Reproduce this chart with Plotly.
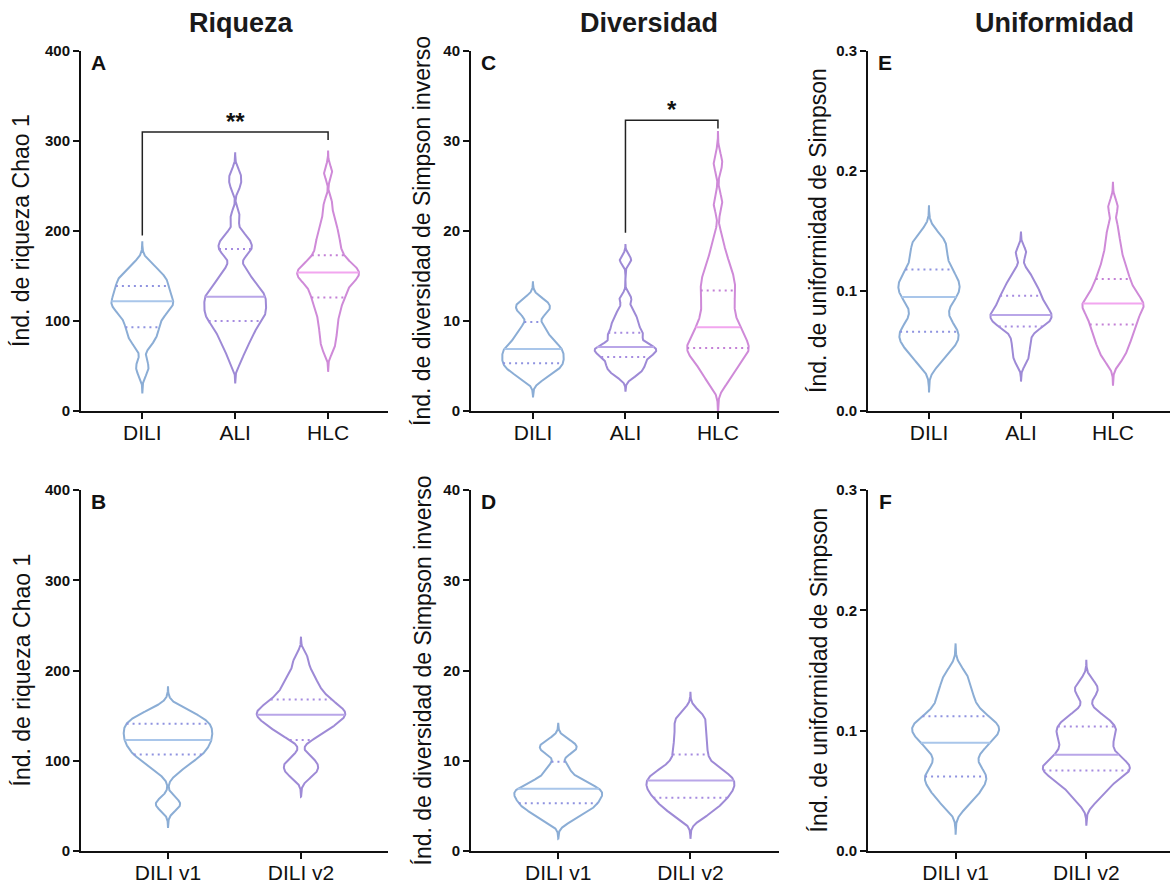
import numpy as np
import plotly.graph_objects as go

# ---------------- data (values estimated from the reference figure) ----------------
cats_top = ["DILI", "ALI", "HLC"]
cats_bottom = ["DILI v1", "DILI v2"]

# Riqueza (Chao 1)
chao1_DILI = [44, 53, 72, 78, 83, 87, 91, 95, 99, 103, 106, 109, 112, 114, 116, 118, 120, 122,
              124, 126, 128, 131, 133.5, 136, 138.5, 141, 143.5, 146, 148.5, 151, 155, 159, 164]
chao1_ALI = [55, 66, 72, 78, 83, 87, 91, 95, 98, 101, 103.5, 106, 108.5, 111, 113.5, 116, 118.5,
             121, 123.5, 126, 128.5, 131, 133.5, 136, 140, 144, 148, 153, 160, 174, 178, 182, 186,
             191, 197, 216, 251, 263]
chao1_HLC = [68, 78, 86, 94, 102, 108, 114, 120, 124, 128, 132, 136, 140, 143, 145.5, 148, 150,
             152, 154, 156, 158, 160.5, 163, 166, 170, 175, 180, 186, 192, 198, 205, 215, 230, 265]
chao1_DILI_v1 = [50, 54, 88, 95, 101, 104, 107, 110, 113, 116, 118.5, 121, 123.5, 126, 128.5, 131,
                 133.5, 136, 138.5, 141, 143.5, 146, 149, 153, 158]
chao1_DILI_v2 = [84, 90, 96, 102, 126, 131, 135, 139, 142, 145, 147.5, 150, 152, 154, 156.5, 159,
                 162, 165, 169, 173, 178, 184, 191, 199, 213]

# Diversidad (Simpson inverso)
invsimp_DILI = [3.6, 4.2, 4.6, 4.9, 5.2, 5.5, 5.8, 6.1, 6.4, 6.7, 7.0, 7.3, 7.7, 8.2, 8.8, 9.5,
                10.8, 11.3, 11.8, 12.3]
invsimp_ALI = [3.9, 4.4, 4.8, 5.1, 5.5, 5.9, 6.2, 6.45, 6.65, 6.85, 7.05, 7.25, 7.5, 8.2, 8.5, 8.8,
               9.4, 9.9, 10.4, 11.2, 12.5, 16.8]
invsimp_HLC = [3.2, 3.9, 4.6, 5.2, 5.7, 6.1, 6.4, 6.7, 7.0, 7.3, 7.6, 8.0, 8.4, 8.8, 9.3, 9.8, 10.4,
               11.0, 11.7, 12.4, 13.0, 13.6, 14.2, 14.8, 15.5, 16.3, 17.3, 19.0, 23.1, 27.6]
invsimp_DILI_v1 = [3.4, 4.0, 4.5, 4.8, 5.1, 5.4, 5.7, 6.0, 6.25, 6.5, 6.75, 7.0, 7.3, 7.7, 8.3, 9.3,
                   11.0, 11.5, 12.1]
invsimp_DILI_v2 = [3.8, 4.5, 5.0, 5.4, 5.8, 6.15, 6.5, 6.8, 7.1, 7.4, 7.7, 8.0, 8.3, 8.6, 9.0, 9.5,
                   10.2, 11.0, 11.8, 12.6, 13.5, 14.3, 15.2]

# Uniformidad (Simpson)
even_DILI = [0.040, 0.046, 0.051, 0.055, 0.058, 0.061, 0.064, 0.067, 0.070, 0.074, 0.079, 0.085,
             0.090, 0.094, 0.097, 0.100, 0.103, 0.106, 0.109, 0.112, 0.116, 0.120, 0.125, 0.131,
             0.136, 0.141, 0.147]
even_ALI = [0.042, 0.050, 0.057, 0.064, 0.0695, 0.072, 0.074, 0.076, 0.078, 0.080, 0.082, 0.084,
            0.086, 0.089, 0.092, 0.095, 0.098, 0.101, 0.105, 0.110, 0.116, 0.132]
even_HLC = [0.042, 0.048, 0.053, 0.057, 0.061, 0.065, 0.068, 0.071, 0.074, 0.077, 0.080, 0.083,
            0.085, 0.087, 0.089, 0.091, 0.093, 0.096, 0.099, 0.102, 0.106, 0.110, 0.114, 0.119,
            0.125, 0.132, 0.141, 0.152, 0.170]
even_DILI_v1 = [0.038, 0.044, 0.049, 0.053, 0.057, 0.060, 0.063, 0.066, 0.070, 0.076, 0.082, 0.086,
                0.089, 0.092, 0.095, 0.098, 0.100, 0.102, 0.104, 0.106, 0.109, 0.112, 0.116, 0.121,
                0.127, 0.133, 0.140, 0.148]
even_DILI_v2 = [0.042, 0.049, 0.054, 0.058, 0.061, 0.064, 0.066, 0.068, 0.070, 0.072, 0.074, 0.077,
                0.080, 0.084, 0.088, 0.092, 0.096, 0.099, 0.102, 0.105, 0.109, 0.114, 0.131, 0.138]

# medians and quartiles as shown in the figure
chao1_median = [122, 127, 154]
chao1_q1 = [93, 100, 126]
chao1_q3 = [139, 180, 173]
chao1_v_median = [123, 151]
chao1_v_q1 = [107, 123]
chao1_v_q3 = [141, 168]
invsimp_median = [6.9, 7.1, 9.3]
invsimp_q1 = [5.3, 6.0, 7.0]
invsimp_q3 = [9.9, 8.7, 13.4]
invsimp_v_median = [6.9, 7.8]
invsimp_v_q1 = [5.3, 5.9]
invsimp_v_q3 = [9.9, 10.7]
even_median = [0.095, 0.080, 0.0895]
even_q1 = [0.066, 0.0705, 0.072]
even_q3 = [0.118, 0.096, 0.110]
even_v_median = [0.090, 0.080]
even_v_q1 = [0.062, 0.067]
even_v_q3 = [0.112, 0.1035]

# significance brackets: (x_left, x_right, y_top, y_left_end, y_right_end, label)
sig_riqueza = (1, 3, 310, 195, 301, "**")
sig_diversidad = (2, 3, 32.3, 19.8, 31.4, "*")

# ---------------- styling ----------------
W, H = 1171, 883
FONT = "Arial, Liberation Sans, Helvetica, sans-serif"
OUTLINE = ["#8badd5", "#9e8ad6", "#cf8ad8"]
MEDIAN_C = ["#a9c6ea", "#b9a6e8", "#f2a6ef"]
QUART_C = ["#8f93e0", "#a68be0", "#c480d6"]
HALF_W = 0.333

def px_x(p):
    return p / W

def px_y(p):
    return 1 - p / H

panels = [
    dict(ax="", xd=(81, 388), yd=(51, 411), groups=[chao1_DILI, chao1_ALI, chao1_HLC], cats=cats_top,
         med=chao1_median, q1=chao1_q1, q3=chao1_q3, bw=[7, 7, 7], yr=[0, 400], dt=100, fmt="d",
         ytitle="Índ. de riqueza Chao 1", letter="A", ytx=21, colors=[0, 1, 2], xr=[0.34, 3.645]),
    dict(ax="2", xd=(471, 779), yd=(51, 411), groups=[invsimp_DILI, invsimp_ALI, invsimp_HLC], cats=cats_top,
         med=invsimp_median, q1=invsimp_q1, q3=invsimp_q3, bw=[0.6, 0.5, 1.0], yr=[0, 40], dt=10, fmt="d",
         ytitle="Índ. de diversidad de Simpson inverso", letter="C", ytx=422, colors=[0, 1, 2], xr=[0.33, 3.66]),
    dict(ax="3", xd=(868, 1170), yd=(51, 411), groups=[even_DILI, even_ALI, even_HLC], cats=cats_top,
         med=even_median, q1=even_q1, q3=even_q3, bw=[0.007, 0.005, 0.006], yr=[0, 0.3], dt=0.1, fmt=".1f",
         ytitle="Índ. de uniformidad de Simpson", letter="E", ytx=818, colors=[0, 1, 2], xr=[0.337, 3.62]),
    dict(ax="4", xd=(81, 388), yd=(490, 851), groups=[chao1_DILI_v1, chao1_DILI_v2], cats=cats_bottom,
         med=chao1_v_median, q1=chao1_v_q1, q3=chao1_v_q3, bw=[7, 7], yr=[0, 400], dt=100, fmt="d",
         ytitle="Índ. de riqueza Chao 1", letter="B", ytx=21, colors=[0, 1], xr=[0.346, 2.654]),
    dict(ax="5", xd=(471, 779), yd=(490, 851), groups=[invsimp_DILI_v1, invsimp_DILI_v2], cats=cats_bottom,
         med=invsimp_v_median, q1=invsimp_v_q1, q3=invsimp_v_q3, bw=[0.6, 0.7], yr=[0, 40], dt=10, fmt="d",
         ytitle="Índ. de diversidad de Simpson inverso", letter="D", ytx=422, colors=[0, 1], xr=[0.34, 2.67]),
    dict(ax="6", xd=(868, 1170), yd=(490, 851), groups=[even_DILI_v1, even_DILI_v2], cats=cats_bottom,
         med=even_v_median, q1=even_v_q1, q3=even_v_q3, bw=[0.007, 0.006], yr=[0, 0.3], dt=0.1, fmt=".1f",
         ytitle="Índ. de uniformidad de Simpson", letter="F", ytx=818, colors=[0, 1], xr=[0.33, 2.64]),
]


def violin_profile(samples, h, ext=3.5, n=500):
    s = np.asarray(samples, dtype=float)
    y = np.linspace(s.min() - ext * h, s.max() + ext * h, n)
    d = np.exp(-0.5 * ((y[:, None] - s[None, :]) / h) ** 2).sum(axis=1)
    w = HALF_W * d / d.max()
    return y, w


fig = go.Figure()
annotations = []
layout_axes = {}

for p in panels:
    xa = "x" + p["ax"]
    ya = "y" + p["ax"]
    for i, (samples, h) in enumerate(zip(p["groups"], p["bw"])):
        pos = i + 1
        ci = p["colors"][i]
        y, w = violin_profile(samples, h)
        xs = np.concatenate([pos + w, (pos - w)[::-1], [pos + w[0]]])
        ys = np.concatenate([y, y[::-1], [y[0]]])
        fig.add_trace(go.Scatter(x=xs, y=ys, mode="lines", xaxis=xa, yaxis=ya,
                                 line=dict(color=OUTLINE[ci], width=2), hoverinfo="skip",
                                 showlegend=False))
        for val, col, dash in [(p["q1"][i], QUART_C[ci], "2px,4px"),
                               (p["q3"][i], QUART_C[ci], "2px,4px"),
                               (p["med"][i], MEDIAN_C[ci], "solid")]:
            wm = float(np.interp(val, y, w))
            fig.add_trace(go.Scatter(x=[pos - wm, pos + wm], y=[val, val], mode="lines",
                                     xaxis=xa, yaxis=ya, hoverinfo="skip", showlegend=False,
                                     line=dict(color=col, width=2, dash=dash)))

    key = p["ax"]
    layout_axes["xaxis" + key] = dict(
        domain=[px_x(p["xd"][0]), min(1.0, px_x(p["xd"][1]))], range=p["xr"], anchor=ya,
        tickvals=list(range(1, len(p["cats"]) + 1)), ticktext=p["cats"], automargin=False,
        showline=True, linecolor="#111", linewidth=2, ticks="outside", ticklen=6, tickwidth=2,
        tickcolor="#111", showgrid=False, zeroline=False, ticklabelstandoff=-4,
        tickfont=dict(family=FONT, size=21, color="#111"), fixedrange=True)
    layout_axes["yaxis" + key] = dict(
        domain=[px_y(p["yd"][1]), px_y(p["yd"][0])], range=p["yr"], anchor=xa,
        tick0=0, dtick=p["dt"], tickformat=p["fmt"], automargin=False,
        showline=True, linecolor="#111", linewidth=2, ticks="outside", ticklen=6, tickwidth=2,
        tickcolor="#111", showgrid=False, zeroline=False,
        tickfont=dict(family=FONT, size=15, color="#111", weight="bold"), fixedrange=True)

    ymid = (p["yd"][0] + p["yd"][1]) / 2
    annotations.append(dict(text=p["ytitle"], x=px_x(p["ytx"]), y=px_y(ymid), xref="paper", yref="paper",
                            textangle=-90, showarrow=False, xanchor="center", yanchor="middle",
                            font=dict(family=FONT, size=23, color="#111")))
    annotations.append(dict(text=p["letter"], x=px_x(p["xd"][0] + 17), y=px_y(p["yd"][0] + 11),
                            xref="paper", yref="paper", showarrow=False, xanchor="center", yanchor="middle",
                            font=dict(family=FONT, size=21, color="#111", weight="bold")))

# significance brackets
for (x0, x1, yt, yl, yr_, lab), ax in [(sig_riqueza, ""), (sig_diversidad, "2")]:
    fig.add_trace(go.Scatter(x=[x0, x0, x1, x1], y=[yl, yt, yt, yr_], mode="lines",
                             xaxis="x" + ax, yaxis="y" + ax, hoverinfo="skip", showlegend=False,
                             line=dict(color="#222", width=1.5)))
    annotations.append(dict(text=lab, x=(x0 + x1) / 2, y=yt, xref="x" + ax, yref="y" + ax,
                            showarrow=False, xanchor="center", yanchor="bottom", yshift=-5,
                            font=dict(family=FONT, size=24, color="#111", weight="bold")))

# column titles
for txt, cx in [("Riqueza", 241), ("Diversidad", 649), ("Uniformidad", 1054)]:
    annotations.append(dict(text=txt, x=px_x(cx), y=px_y(23), xref="paper", yref="paper",
                            showarrow=False, xanchor="center", yanchor="middle",
                            font=dict(family=FONT, size=27, color="#1a1a1a", weight="bold")))

fig.update_layout(width=W, height=H, margin=dict(l=0, r=0, t=0, b=0, autoexpand=False),
                  paper_bgcolor="white", plot_bgcolor="white", showlegend=False,
                  annotations=annotations, **layout_axes)

fig.write_html("out.html")
